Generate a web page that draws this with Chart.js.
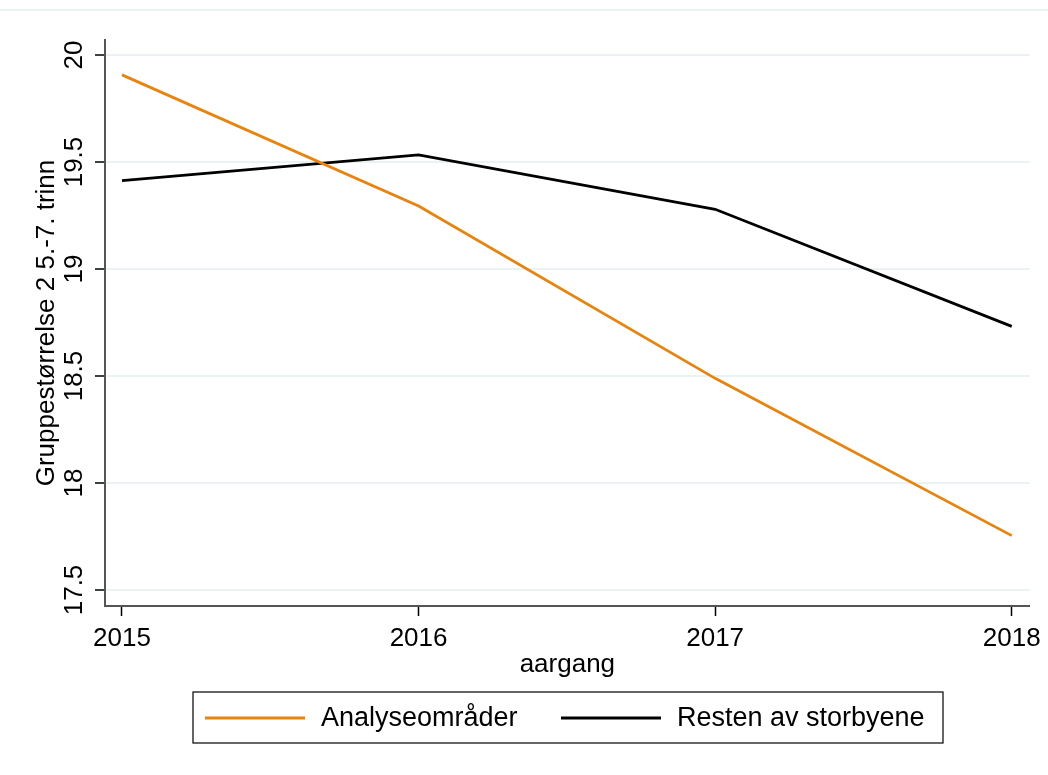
<!DOCTYPE html>
<html>
<head>
<meta charset="utf-8">
<script src="https://cdn.jsdelivr.net/npm/chart.js@4.4.1/dist/chart.umd.min.js"></script>
<style>
  html, body { margin: 0; padding: 0; background: #fff; }
  #wrap { width: 1048px; height: 775px; }
</style>
</head>
<body>
<div id="wrap"><canvas id="chart" width="1048" height="775"></canvas></div>
<script>
// values
const years = [2015, 2016, 2017, 2018];
const analyseomrader = [19.907, 19.294, 18.489, 17.754];
const restenAvStorbyene = [19.413, 19.533, 19.279, 18.732];
const yTicks = [17.5, 18, 18.5, 19, 19.5, 20];
const yTickLabels = ["17.5", "18", "18.5", "19", "19.5", "20"];
const seriesNames = ["Analyseområder", "Resten av storbyene"];
const seriesColors = ["#e8840e", "#000000"];

const FONT = "'Liberation Sans', Arial, sans-serif";
const axisGray = "#555555";
const gridColor = "#eaf2f3";

// rotated y tick labels, legend frame, top border of graph region
const extras = {
    id: "extras",
    afterDraw(chart) {
        const ctx = chart.ctx;
        const y = chart.scales.y;

        ctx.save();
        ctx.strokeStyle = gridColor;
        ctx.lineWidth = 2;
        ctx.beginPath();
        ctx.moveTo(0, 10);
        ctx.lineTo(1048, 10);
        ctx.stroke();

        ctx.fillStyle = "#000";
        ctx.font = "26px " + FONT;
        ctx.textAlign = "center";
        ctx.textBaseline = "middle";
        yTicks.forEach((v, i) => {
            ctx.save();
            ctx.translate(74, y.getPixelForValue(v));
            ctx.rotate(-Math.PI / 2);
            ctx.fillText(yTickLabels[i], 0, 1);
            ctx.restore();
        });

        // legend
        const boxL = 193, boxT = 692, boxW = 750, boxH = 51;
        ctx.strokeStyle = "#000";
        ctx.lineWidth = 1.2;
        ctx.strokeRect(boxL, boxT, boxW, boxH);

        const midY = 718;
        const items = [
            { x1: 205, x2: 305, tx: 321 },
            { x1: 561, x2: 661, tx: 677 }
        ];
        items.forEach((it, i) => {
            ctx.strokeStyle = seriesColors[i];
            ctx.lineWidth = 3;
            ctx.beginPath();
            ctx.moveTo(it.x1, midY);
            ctx.lineTo(it.x2, midY);
            ctx.stroke();
            ctx.fillStyle = "#000";
            ctx.font = "27px " + FONT;
            ctx.textAlign = "left";
            ctx.textBaseline = "middle";
            ctx.fillText(seriesNames[i], it.tx, midY + 1);
        });
        ctx.restore();
    }
};

new Chart(document.getElementById("chart"), {
    type: "line",
    data: {
        labels: years,
        datasets: [
            {
                label: seriesNames[0],
                data: years.map((yr, i) => ({ x: yr, y: analyseomrader[i] })),
                borderColor: seriesColors[0],
                borderWidth: 2.8,
                pointRadius: 0,
                tension: 0
            },
            {
                label: seriesNames[1],
                data: years.map((yr, i) => ({ x: yr, y: restenAvStorbyene[i] })),
                borderColor: seriesColors[1],
                borderWidth: 2.8,
                pointRadius: 0,
                tension: 0
            }
        ]
    },
    options: {
        responsive: false,
        animation: false,
        layout: {
            padding: { left: 0, top: 40, right: 18, bottom: 91 }
        },
        plugins: {
            legend: { display: false },
            tooltip: { enabled: false }
        },
        scales: {
            x: {
                type: "linear",
                min: 2014.9427,
                max: 2018.0607,
                afterBuildTicks: scale => {
                    scale.ticks = years.map(v => ({ value: v }));
                },
                afterFit: scale => { scale.height = 78; },
                ticks: {
                    color: "#000",
                    font: { family: FONT, size: 26 },
                    padding: 7,
                    maxRotation: 0,
                    callback: v => String(v)
                },
                grid: {
                    drawOnChartArea: false,
                    drawTicks: true,
                    tickLength: 10,
                    tickColor: "#000",
                    tickWidth: 1.5
                },
                border: { color: axisGray, width: 2 },
                title: {
                    display: true,
                    text: "aargang",
                    color: "#000",
                    font: { family: FONT, size: 26 },
                    padding: { top: 0, bottom: 4 }
                }
            },
            y: {
                type: "linear",
                min: 17.4252,
                max: 20.0701,
                afterBuildTicks: scale => {
                    scale.ticks = yTicks.map(v => ({ value: v }));
                },
                afterFit: scale => { scale.width = 105; },
                ticks: {
                    color: "rgba(0,0,0,0)",
                    font: { family: FONT, size: 26 }
                },
                grid: {
                    color: gridColor,
                    lineWidth: 2,
                    drawTicks: true,
                    tickLength: 10,
                    tickColor: "#000",
                    tickWidth: 1.5
                },
                border: { color: axisGray, width: 2 },
                title: {
                    display: true,
                    text: "Gruppestørrelse 2 5.-7. trinn",
                    color: "#000",
                    font: { family: FONT, size: 26 },
                    padding: { top: 31, bottom: 0 }
                }
            }
        }
    },
    plugins: [extras]
});
</script>
</body>
</html>
